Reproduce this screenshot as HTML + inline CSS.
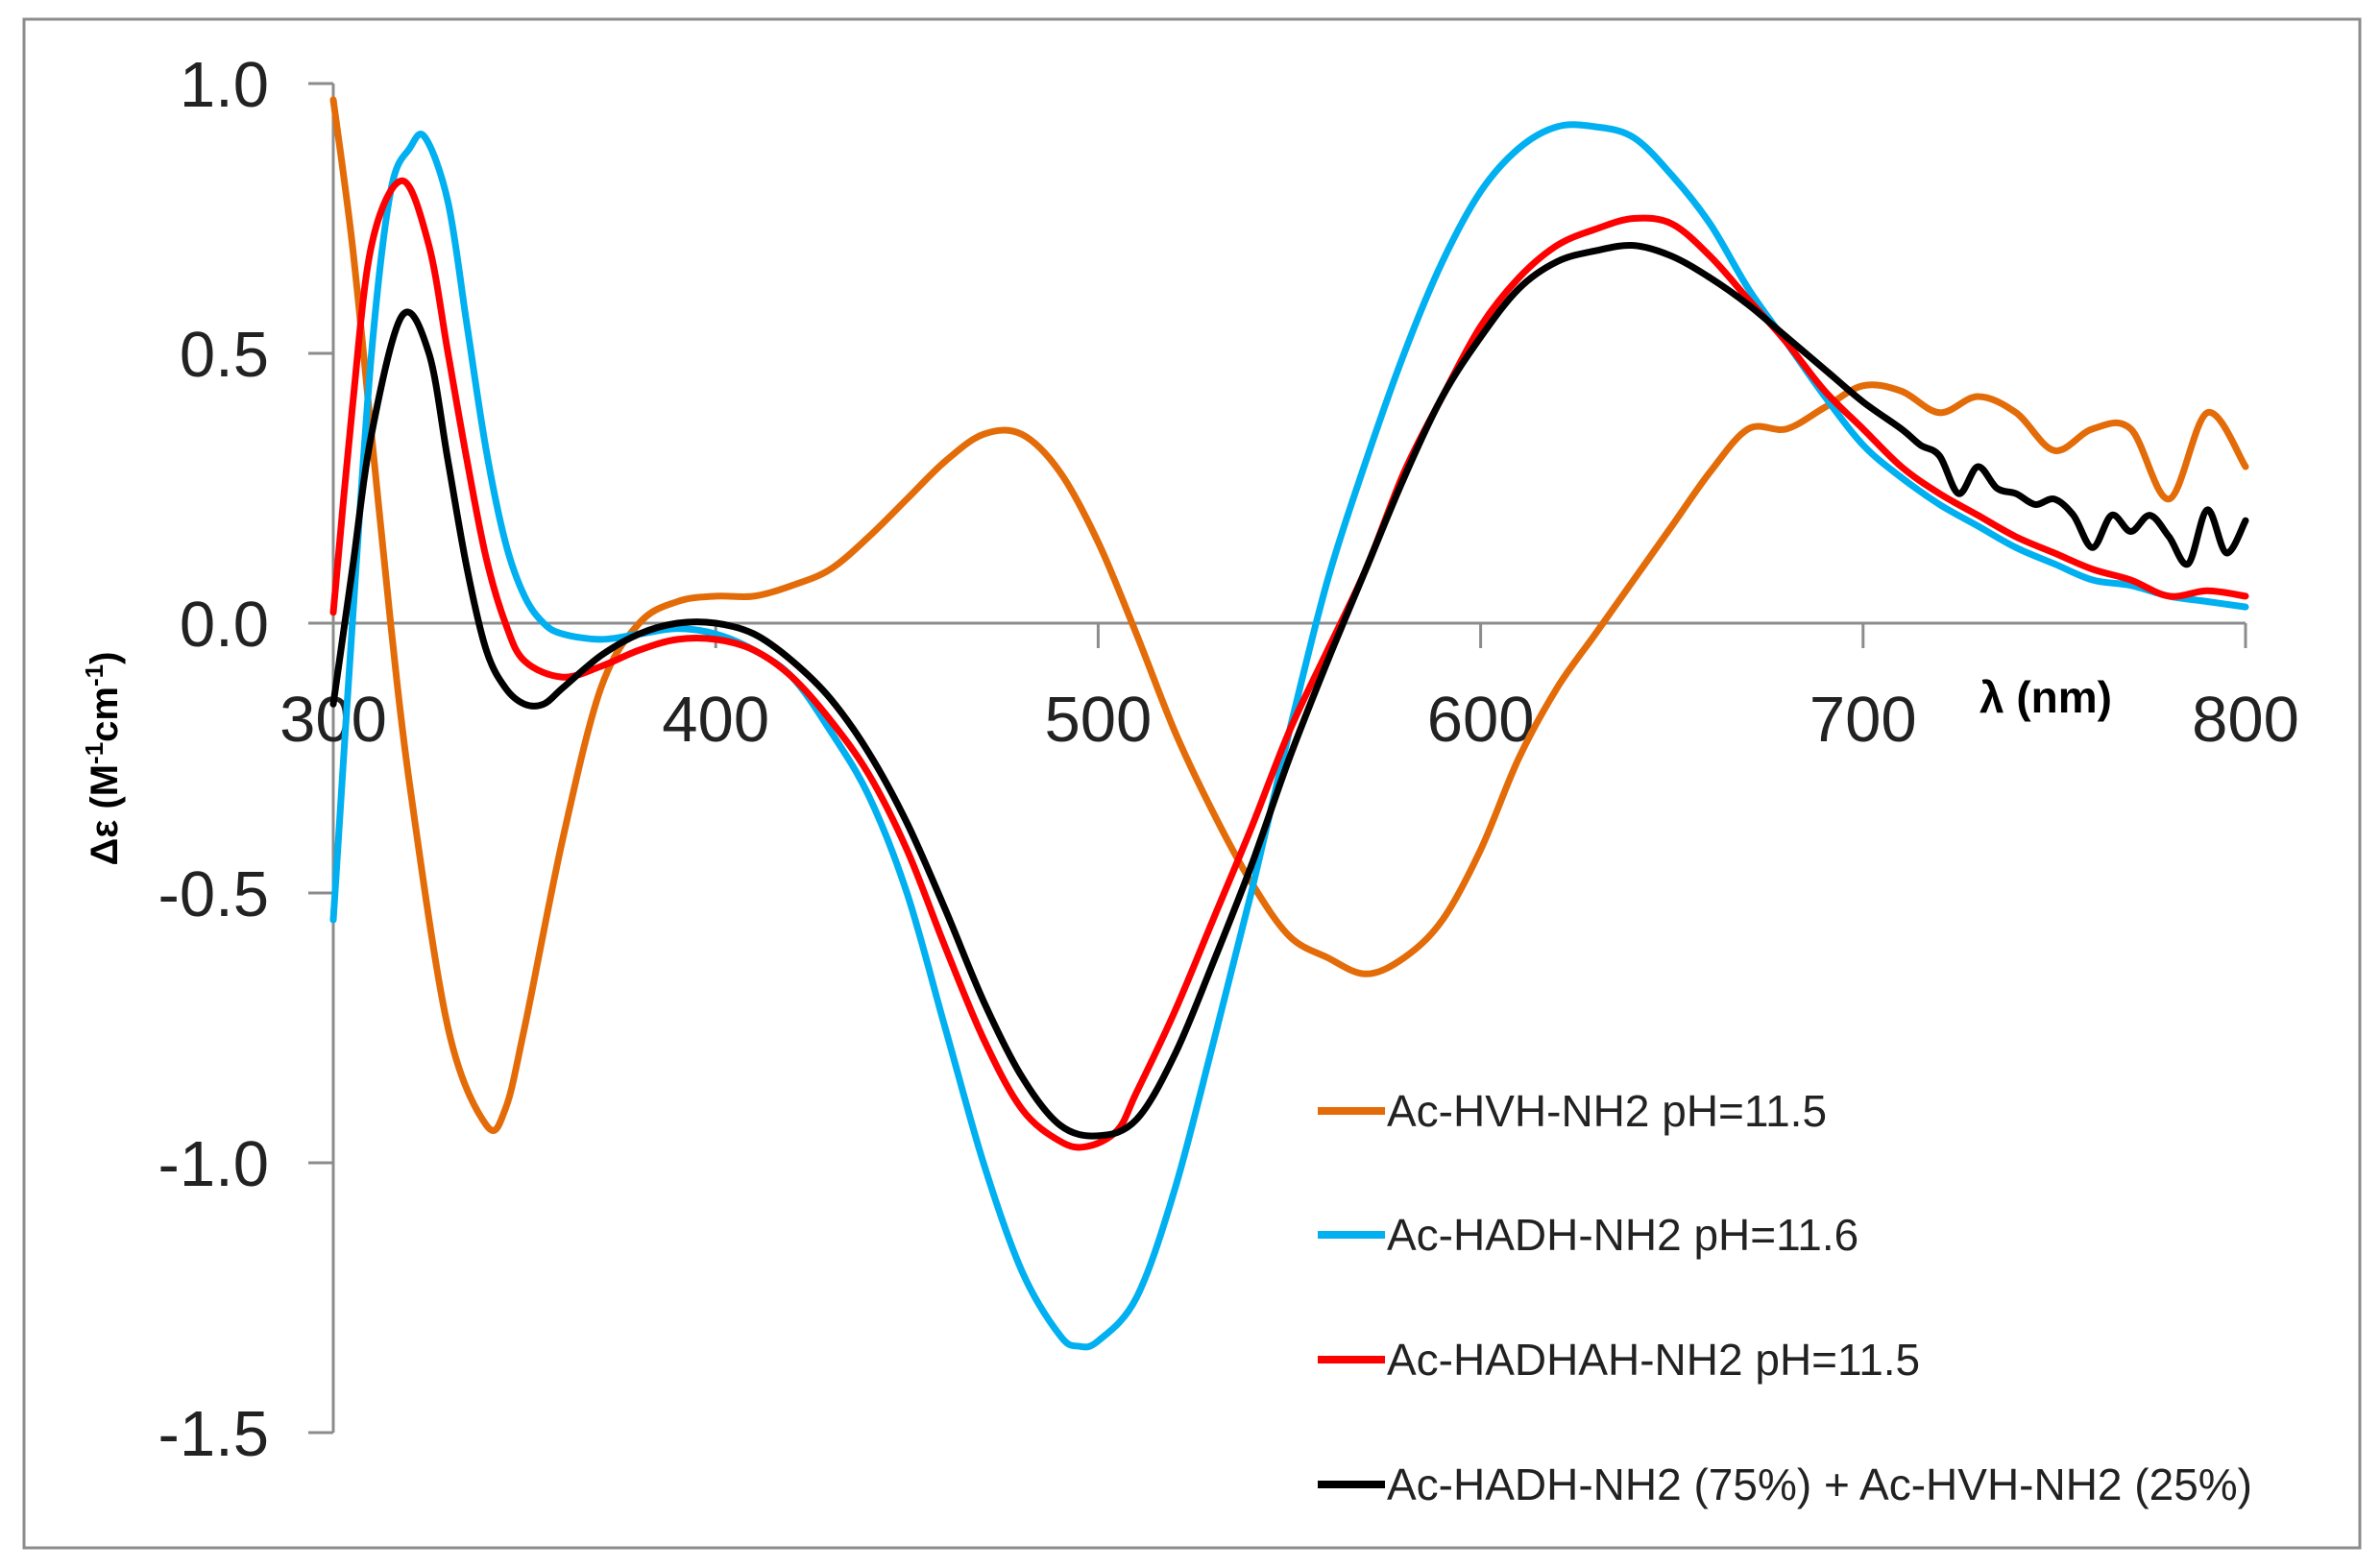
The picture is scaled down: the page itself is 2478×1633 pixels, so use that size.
<!DOCTYPE html>
<html><head><meta charset="utf-8"><style>
html,body{margin:0;padding:0;background:#fff}
svg{display:block}
text{font-family:"Liberation Sans",sans-serif}
</style></head><body>
<svg id="chart" width="2478" height="1633" viewBox="0 0 2478 1633">
<rect x="25" y="20" width="2432" height="1592" fill="#fff" stroke="#8c8c8c" stroke-width="3"/>
<g id="axes"></g>
<g id="series"></g>
<g id="legend"></g>
<text transform="translate(122,790) rotate(-90)" text-anchor="middle" font-size="40" font-weight="bold" fill="#000">Δε (M<tspan baseline-shift="super" font-size="26">-1</tspan>cm<tspan baseline-shift="super" font-size="26">-1</tspan>)</text>
<text x="2130" y="742" text-anchor="middle" font-size="46" font-weight="bold" fill="#000">λ (nm)</text>
</svg>
<script>
const xTicks=[300,400,500,600,700,800];
const yTicks=[1.0,0.5,0.0,-0.5,-1.0,-1.5];
const seriesNames=["Ac-HVH-NH2 pH=11.5","Ac-HADH-NH2 pH=11.6","Ac-HADHAH-NH2 pH=11.5","Ac-HADH-NH2 (75%) + Ac-HVH-NH2 (25%)"];
const orangeX=[300,305,310,315,320,330,340,345,350,360,370,380,390,400,410,420,430,440,450,460,470,480,490,500,510,520,530,540,550,560,570,580,590,600,610,620,630,640,650,660,670,680,690,700,710,720,730,740,750,760,770,780,790,800];
const orangeY=[0.97,0.7,0.35,0.0,-0.3,-0.75,-0.93,-0.9,-0.75,-0.4,-0.12,0.0,0.04,0.05,0.05,0.07,0.1,0.16,0.23,0.3,0.35,0.35,0.28,0.15,-0.02,-0.2,-0.35,-0.48,-0.58,-0.62,-0.65,-0.62,-0.55,-0.42,-0.25,-0.12,-0.02,0.08,0.18,0.28,0.36,0.36,0.4,0.44,0.43,0.39,0.42,0.39,0.32,0.36,0.36,0.23,0.39,0.29];
const blueX=[300,305,310,315,320,324,330,335,340,345,350,355,360,370,380,390,400,410,420,430,440,450,460,470,480,490,495,500,510,520,530,540,550,560,570,580,590,600,610,620,630,640,650,660,670,680,690,700,710,720,730,740,750,760,770,780,790,800];
const blueY=[-0.55,0.0,0.5,0.8,0.88,0.9,0.78,0.55,0.32,0.15,0.05,0.0,-0.02,-0.03,-0.02,-0.01,-0.02,-0.05,-0.1,-0.2,-0.32,-0.5,-0.75,-1.0,-1.2,-1.32,-1.34,-1.33,-1.25,-1.05,-0.78,-0.5,-0.2,0.08,0.3,0.5,0.67,0.8,0.88,0.92,0.92,0.9,0.83,0.74,0.62,0.52,0.42,0.33,0.27,0.22,0.18,0.14,0.11,0.08,0.07,0.05,0.04,0.03];
const redX=[300,305,310,318,325,330,335,340,345,350,360,370,380,390,400,410,420,430,440,450,460,470,480,490,497,505,510,520,530,540,550,560,570,580,590,600,610,620,630,640,650,660,670,680,690,700,710,720,730,740,750,760,770,780,790,800];
const redY=[0.02,0.4,0.7,0.82,0.7,0.5,0.3,0.12,0.0,-0.07,-0.1,-0.08,-0.05,-0.03,-0.03,-0.05,-0.1,-0.18,-0.28,-0.42,-0.6,-0.77,-0.9,-0.96,-0.97,-0.94,-0.87,-0.72,-0.55,-0.38,-0.2,-0.05,0.1,0.28,0.42,0.55,0.64,0.7,0.73,0.75,0.74,0.68,0.6,0.52,0.43,0.36,0.29,0.24,0.2,0.16,0.13,0.1,0.08,0.05,0.06,0.05];
const blackX=[300,305,310,318,325,330,335,340,345,350,355,360,370,380,390,400,410,420,430,440,450,460,470,480,490,500,510,520,530,540,550,560,570,580,590,600,610,620,630,640,650,660,670,680,690,700,710,715,720,725,730,735,740,745,750,755,760,765,770,775,780,785,790,795,800];
const blackY=[-0.15,0.1,0.35,0.57,0.5,0.3,0.1,-0.05,-0.12,-0.15,-0.15,-0.12,-0.06,-0.02,0.0,0.0,-0.02,-0.07,-0.14,-0.24,-0.37,-0.53,-0.7,-0.84,-0.93,-0.95,-0.92,-0.8,-0.63,-0.45,-0.25,-0.07,0.1,0.27,0.42,0.53,0.62,0.67,0.69,0.7,0.68,0.64,0.59,0.53,0.47,0.41,0.36,0.33,0.31,0.24,0.29,0.25,0.24,0.22,0.23,0.2,0.14,0.2,0.17,0.2,0.16,0.11,0.21,0.13,0.19];
const colors=["#e36c09","#00b0f0","#ff0000","#000000"];
const NS="http://www.w3.org/2000/svg";
const X0=347,X1=2338,Y0=649,YU=562;
function xs(v){return X0+(v-300)/500*(X1-X0);}
function ys(v){return Y0-v*YU;}
function mk(tag,attrs,parent){const e=document.createElementNS(NS,tag);for(const k in attrs)e.setAttribute(k,attrs[k]);parent.appendChild(e);return e;}
const axes=document.getElementById('axes');
const yl=mk('line',{x1:X0,y1:ys(1),x2:X0,y2:ys(-1.5),stroke:'#8c8c8c','stroke-width':3},axes);


const xl=mk('line',{x1:X0,y1:Y0,x2:X1,y2:Y0,stroke:'#8c8c8c','stroke-width':3},axes);


yTicks.forEach(t=>{
 const l=mk('line',{x1:X0-26,y1:ys(t),x2:X0,y2:ys(t),stroke:'#8c8c8c','stroke-width':3},axes);
 
 
 const tx=mk('text',{x:280,y:ys(t)+24,'text-anchor':'end','font-size':67,fill:'#222'},axes);
 tx.textContent=t.toFixed(1);
 
 
});
xTicks.forEach(t=>{
 if(t>300){const l=mk('line',{x1:xs(t),y1:Y0,x2:xs(t),y2:Y0+26,stroke:'#8c8c8c','stroke-width':3},axes);
 
 }
 const tx=mk('text',{x:xs(t),y:772,'text-anchor':'middle','font-size':67,fill:'#222'},axes);
 tx.textContent=t;
 
 
});
function pathD(xa,ya){const p=xa.map((x,i)=>[xs(x),ys(ya[i])]);let d='M'+p[0][0]+','+p[0][1];
 for(let i=0;i<p.length-1;i++){const a=p[i-1]||p[i],b=p[i],c=p[i+1],e=p[i+2]||c;
  const c1=[b[0]+(c[0]-a[0])/6,b[1]+(c[1]-a[1])/6],c2=[c[0]-(e[0]-b[0])/6,c[1]-(e[1]-b[1])/6];
  d+=` C${c1[0].toFixed(1)},${c1[1].toFixed(1)} ${c2[0].toFixed(1)},${c2[1].toFixed(1)} ${c[0].toFixed(1)},${c[1].toFixed(1)}`;}
 return d;}
const sg=document.getElementById('series');
const data=[[orangeX,orangeY],[blueX,blueY],[redX,redY],[blackX,blackY]];
const sn=['series-ac-hvh','series-ac-hadh','series-ac-hadhah','series-mixture'];
data.forEach((s,i)=>{
 const p=mk('path',{d:pathD(s[0],s[1]),fill:'none',stroke:colors[i],'stroke-width':7,'stroke-linejoin':'round','stroke-linecap':'round'},sg);
 
 
});
const lg=document.getElementById('legend');
const rows=[1157,1286,1416,1546];
seriesNames.forEach((n,i)=>{
 const g=mk('g',{},lg);
 
 
 mk('line',{x1:1372,y1:rows[i],x2:1442,y2:rows[i],stroke:colors[i],'stroke-width':8},g);
 const t=mk('text',{x:1444,y:rows[i]+16,'font-size':46,fill:'#222'},g);
 t.textContent=n;
});
</script>
</body></html>
